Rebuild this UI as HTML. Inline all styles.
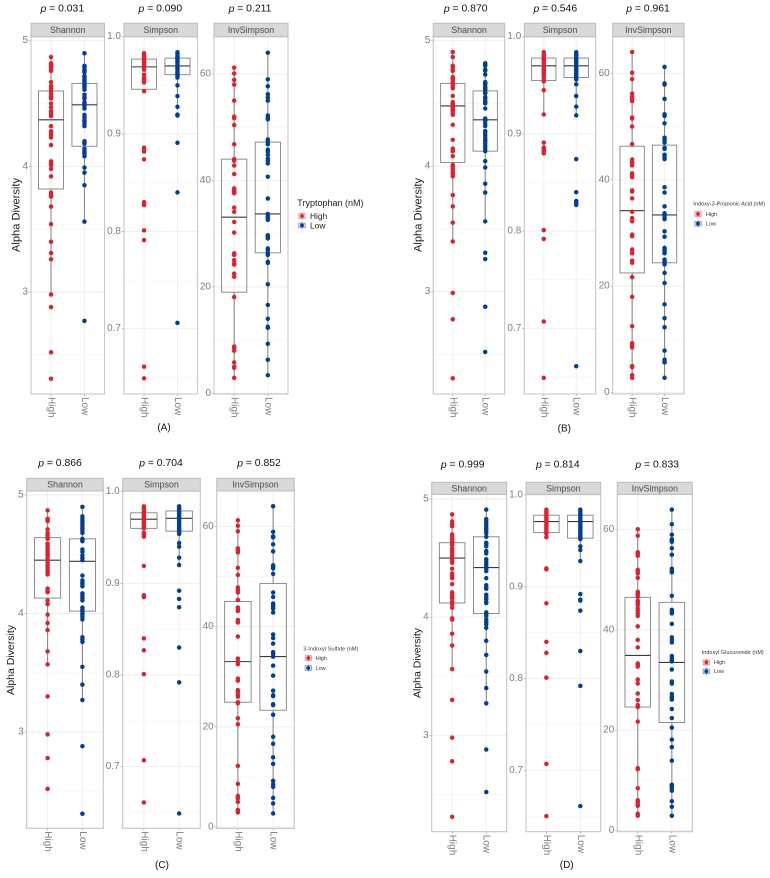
<!DOCTYPE html>
<html lang="en">
<head>
<meta charset="utf-8">
<title>Alpha diversity by metabolite level</title>
<style>
  html, body { margin: 0; padding: 0; background: #fff; }
  #figure { display: block; width: 770px; height: 878px; font-family: "Liberation Sans", sans-serif; filter: blur(0.3px); }
  .pval { font-size: 10.4px; fill: #111; text-anchor: middle; dominant-baseline: central; }
  .caption { font-size: 10px; fill: #111; text-anchor: middle; dominant-baseline: central; }
  .ytitle { fill: #1a1a1a; text-anchor: middle; }
</style>
</head>
<body>
<svg id="figure" xmlns="http://www.w3.org/2000/svg" width="770" height="878" viewBox="0 0 770 878">
  <rect x="0" y="0" width="770" height="878" fill="#ffffff"/>

  <g id="charts"></g>

  <g>
    <text class="pval" x="62.3" y="9"><tspan font-style="italic">p</tspan> = 0.031</text>
    <text class="pval" x="160.3" y="9"><tspan font-style="italic">p</tspan> = 0.090</text>
    <text class="pval" x="250" y="9"><tspan font-style="italic">p</tspan> = 0.211</text>
    <text class="pval" x="465.7" y="9"><tspan font-style="italic">p</tspan> = 0.870</text>
    <text class="pval" x="555.3" y="9"><tspan font-style="italic">p</tspan> = 0.546</text>
    <text class="pval" x="648" y="9"><tspan font-style="italic">p</tspan> = 0.961</text>
    <text class="pval" x="60" y="463.3"><tspan font-style="italic">p</tspan> = 0.866</text>
    <text class="pval" x="161" y="463.3"><tspan font-style="italic">p</tspan> = 0.704</text>
    <text class="pval" x="259" y="463.3"><tspan font-style="italic">p</tspan> = 0.852</text>
    <text class="pval" x="462.7" y="465"><tspan font-style="italic">p</tspan> = 0.999</text>
    <text class="pval" x="557.8" y="465"><tspan font-style="italic">p</tspan> = 0.814</text>
    <text class="pval" x="657.2" y="465"><tspan font-style="italic">p</tspan> = 0.833</text>
  </g>

  <g>
    <text class="caption" x="164" y="428">(A)</text>
    <text class="caption" x="564.3" y="429">(B)</text>
    <text class="caption" x="162" y="865.7">(C)</text>
    <text class="caption" x="566.7" y="865.7">(D)</text>
  </g>

  <g>
    <text class="ytitle" font-size="11.1" transform="translate(19.5,215) rotate(-90)">Alpha Diversity</text>
    <text class="ytitle" font-size="11.1" transform="translate(421.5,215) rotate(-90)">Alpha Diversity</text>
    <text class="ytitle" font-size="10.5" transform="translate(14,660) rotate(-90)">Alpha Diversity</text>
    <text class="ytitle" font-size="10.5" transform="translate(420.5,663) rotate(-90)">Alpha Diversity</text>
  </g>

  <g>
    <text x="297.3" y="206.2" font-size="9" fill="#222">Tryptophan (nM)</text>
    <text x="310" y="219.2" font-size="8.4" fill="#222">High</text>
    <text x="310" y="228.4" font-size="8.4" fill="#222">Low</text>
  </g>
  <g>
    <text x="693.3" y="205.6" font-size="5.6" fill="#333" textLength="71.7">Indoxy-3-Propionic Acid (nM)</text>
    <text x="706" y="216" font-size="5.4" fill="#333">High</text>
    <text x="706" y="225.6" font-size="5.4" fill="#333">Low</text>
  </g>
  <g>
    <text x="303.3" y="650.6" font-size="5.4" fill="#333" textLength="55">3-Indoxyl Sulfate (nM)</text>
    <text x="315.7" y="660" font-size="5.4" fill="#333">High</text>
    <text x="315.7" y="670" font-size="5.4" fill="#333">Low</text>
  </g>
  <g>
    <text x="701.7" y="654.2" font-size="5.4" fill="#333" textLength="62">Indoxyl Glucuronide (nM)</text>
    <text x="714" y="664.2" font-size="5.4" fill="#333">High</text>
    <text x="714" y="673.2" font-size="5.4" fill="#333">Low</text>
  </g>
  <g id="legend-keys"></g>
</svg>

<script>
// ---------- shared categories and tick labels ----------
const categories = ['High', 'Low'];
const metrics = ['Shannon', 'Simpson', 'InvSimpson'];
const shannonTicks = [5, 4, 3];
const shannonTickLabels = ['5', '4', '3'];
const shannonMinorTicks = [4.5, 3.5, 2.5];
const simpsonTicks = [1.0, 0.9, 0.8, 0.7];
const simpsonTickLabels = ['1.0', '0.9', '0.8', '0.7'];
const simpsonMinorTicks = [0.95, 0.85, 0.75, 0.65];
const invTicks = [60, 40, 20, 0];
const invTickLabels = ['60', '40', '20', '0'];
const invMinorTicks = [50, 30, 10];

// ---------- (A) Tryptophan ----------
const shannonHighA = [4.87,4.82,4.81,4.80,4.79,4.77,4.76,4.67,4.64,4.62,4.60,4.58,4.56,4.55,4.54,4.50,4.47,4.44,4.42,4.40,4.32,4.28,4.27,4.25,4.23,4.17,4.04,4.02,4.01,3.98,3.92,3.79,3.77,3.76,3.68,3.54,3.40,3.31,3.26,2.98,2.88,2.52,2.31];
const shannonLowA = [4.90,4.80,4.79,4.77,4.76,4.75,4.72,4.71,4.69,4.68,4.67,4.65,4.64,4.63,4.61,4.57,4.55,4.54,4.51,4.50,4.48,4.46,4.41,4.39,4.37,4.36,4.34,4.32,4.20,4.19,4.18,4.14,4.12,4.11,4.10,4.08,3.99,3.95,3.85,3.56,2.77];
const simpsonHighA = [.983,.981,.979,.978,.976,.974,.973,.971,.969,.967,.966,.961,.958,.956,.954,.953,.944,.886,.884,.882,.874,.830,.829,.827,.801,.791,.661,.649];
const simpsonLowA = [.984,.982,.980,.979,.977,.975,.974,.972,.970,.968,.967,.965,.963,.962,.960,.958,.950,.939,.928,.920,.919,.891,.840,.706];
const invHighA = [61.2,60.1,58.9,58.0,55.0,52.0,51.7,50.4,46.8,44.0,43.7,42.8,41.2,38.5,38.2,37.9,37.6,34.9,34.1,32.2,30.2,26.3,26.0,25.0,24.4,24.2,22.5,21.9,18.1,8.8,8.5,8.0,5.8,5.0,4.8,2.9];
const invLowA = [64.0,59.0,57.7,56.2,55.6,55.0,52.2,51.8,51.5,47.7,47.3,46.8,45.8,45.4,44.8,44.1,43.7,43.2,40.7,36.6,33.7,33.3,32.9,32.6,29.7,29.4,29.1,27.2,26.9,26.3,26.0,24.7,24.5,20.5,16.6,14.0,12.5,12.3,9.3,6.3,3.4];
// box arrays: lower whisker, q1, median, q3, upper whisker
const boxShannonHighA = [2.98,3.82,4.37,4.60,4.87];
const boxShannonLowA = [3.56,4.16,4.49,4.66,4.90];
const boxSimpsonHighA = [.944,.946,.969,.977,.983];
const boxSimpsonLowA = [.925,.961,.970,.978,.984];
const boxInvHighA = [2.9,19.0,33.1,44.0,61.2];
const boxInvLowA = [3.4,26.4,33.7,47.2,64.0];

// ---------- (B) Indoxy-3-Propionic Acid ----------
const shannonHighB = [4.91,4.87,4.80,4.79,4.77,4.76,4.71,4.70,4.69,4.67,4.66,4.65,4.63,4.62,4.56,4.51,4.50,4.49,4.47,4.46,4.45,4.44,4.42,4.41,4.33,4.21,4.14,4.13,4.12,4.08,4.01,4.00,3.98,3.96,3.94,3.92,3.77,3.68,3.55,3.40,2.99,2.78,2.31];
const shannonLowB = [4.82,4.81,4.80,4.77,4.76,4.73,4.67,4.66,4.65,4.63,4.62,4.61,4.59,4.58,4.55,4.54,4.52,4.51,4.50,4.46,4.38,4.37,4.36,4.34,4.32,4.28,4.27,4.25,4.23,4.21,4.20,4.18,4.16,4.14,4.12,4.04,3.99,3.86,3.79,3.56,3.31,3.26,2.88,2.52];
const simpsonHighB = [.984,.982,.980,.978,.976,.974,.972,.970,.968,.966,.964,.962,.960,.957,.954,.945,.920,.891,.886,.884,.882,.880,.801,.792,.707,.649];
const simpsonLowB = [.984,.982,.980,.978,.976,.974,.972,.970,.968,.966,.964,.962,.960,.958,.956,.951,.939,.928,.919,.874,.840,.831,.829,.827,.661];
const invHighB = [64.0,60.1,58.9,56.2,55.6,55.2,54.8,51.7,51.5,50.0,46.7,43.8,43.4,43.1,42.7,41.2,40.8,40.5,38.0,37.8,36.5,34.0,32.8,32.2,29.7,29.4,26.9,26.4,26.2,24.8,24.4,21.7,18.0,12.5,9.3,8.9,8.5,5.0,4.8,3.3,2.8];
const invLowB = [61.2,58.1,57.9,55.2,52.3,52.0,50.6,47.9,47.5,47.0,46.0,45.8,44.7,44.3,43.9,38.6,37.6,35.0,33.7,33.3,32.9,32.6,30.3,29.3,27.2,26.9,26.6,26.2,25.0,24.7,24.4,24.1,22.5,20.6,16.6,14.0,12.3,7.9,6.2,5.8,5.7,2.8];
const boxShannonHighB = [3.40,4.03,4.48,4.66,4.91];
const boxShannonLowB = [3.56,4.12,4.37,4.60,4.82];
const boxSimpsonHighB = [.920,.955,.970,.978,.984];
const boxSimpsonLowB = [.919,.958,.970,.978,.984];
const boxInvHighB = [2.8,22.5,34.2,46.3,64.0];
const boxInvLowB = [2.8,24.4,33.4,46.5,61.2];

// ---------- (C) 3-Indoxyl Sulfate ----------
const shannonHighC = [4.87,4.80,4.79,4.78,4.71,4.68,4.66,4.64,4.63,4.59,4.57,4.55,4.54,4.52,4.50,4.49,4.47,4.45,4.43,4.41,4.39,4.37,4.35,4.33,4.21,4.19,4.18,4.11,4.08,3.99,3.92,3.86,3.68,3.57,3.30,2.98,2.78,2.52];
const shannonLowC = [4.90,4.82,4.80,4.78,4.76,4.74,4.72,4.70,4.68,4.63,4.62,4.61,4.54,4.52,4.49,4.47,4.45,4.32,4.28,4.26,4.25,4.23,4.17,4.15,4.13,4.11,4.05,4.03,4.02,4.00,3.99,3.97,3.95,3.80,3.78,3.76,3.55,3.40,3.27,2.88,2.31];
const simpsonHighC = [.984,.982,.980,.978,.976,.974,.972,.970,.968,.966,.964,.962,.960,.955,.953,.951,.919,.887,.885,.840,.827,.801,.707,.661];
const simpsonLowC = [.984,.982,.980,.978,.976,.974,.972,.970,.968,.966,.964,.962,.960,.958,.956,.954,.944,.940,.928,.920,.892,.883,.874,.830,.792,.649];
const invHighC = [61.2,60.1,59.0,55.6,55.2,54.8,51.7,50.3,47.8,47.3,46.8,45.3,43.8,43.4,43.1,41.3,41.0,40.8,38.0,33.6,33.0,32.5,29.6,29.2,27.3,26.9,26.3,26.0,24.9,24.7,21.7,20.5,12.2,8.6,6.2,5.9,5.7,5.0,3.4,3.1,2.9];
const invLowC = [64.0,58.9,58.0,57.8,56.4,55.0,52.2,51.9,51.6,50.5,46.8,45.9,44.6,44.3,44.0,43.6,42.8,38.4,37.7,36.6,34.9,34.5,34.0,32.2,30.2,27.2,26.3,26.1,24.5,24.3,22.4,18.0,16.6,13.9,12.6,9.2,8.5,8.0,5.8,4.7,2.7];
const boxShannonHighC = [3.57,4.13,4.45,4.64,4.87];
const boxShannonLowC = [3.27,4.02,4.44,4.63,4.90];
const boxSimpsonHighC = [.951,.960,.970,.977,.984];
const boxSimpsonLowC = [.920,.957,.971,.979,.984];
const boxInvHighC = [2.9,24.9,33.0,45.0,61.2];
const boxInvLowC = [2.7,23.3,34.0,48.6,64.0];

// ---------- (D) Indoxyl Glucuronide ----------
const shannonHighD = [4.87,4.81,4.79,4.77,4.70,4.68,4.66,4.64,4.62,4.61,4.58,4.56,4.54,4.52,4.50,4.48,4.46,4.41,4.37,4.35,4.33,4.28,4.21,4.19,4.17,4.16,4.13,4.11,4.08,3.99,3.98,3.86,3.76,3.56,3.30,2.98,2.78,2.31];
const shannonLowD = [4.91,4.83,4.81,4.79,4.77,4.75,4.73,4.71,4.68,4.63,4.62,4.60,4.56,4.54,4.49,4.47,4.45,4.43,4.41,4.39,4.33,4.27,4.25,4.24,4.19,4.17,4.15,4.13,4.12,4.04,4.03,4.01,3.98,3.96,3.94,3.91,3.80,3.68,3.54,3.40,3.27,2.88,2.52];
const simpsonHighD = [.984,.982,.980,.978,.976,.974,.972,.970,.968,.966,.964,.962,.960,.958,.954,.920,.919,.882,.840,.828,.801,.707,.650];
const simpsonLowD = [.984,.982,.980,.978,.976,.974,.972,.970,.968,.966,.964,.962,.960,.958,.956,.954,.952,.944,.940,.928,.892,.886,.885,.874,.830,.792,.661];
const invHighD = [60.1,58.8,55.5,55.2,54.8,52.0,51.6,51.3,50.4,47.6,47.3,47.0,46.6,45.8,45.4,45.0,44.3,43.8,43.3,42.8,40.7,38.0,36.5,33.3,33.0,32.7,30.1,29.3,27.3,26.0,25.0,24.8,24.6,21.7,12.4,12.2,8.4,6.0,5.7,5.3,4.9,3.3,2.9];
const invLowD = [64.0,61.1,59.0,58.1,57.8,57.6,56.3,55.0,52.2,51.8,51.5,46.8,44.0,43.6,43.3,41.2,38.5,38.0,37.5,34.8,34.3,33.8,33.7,32.1,29.7,29.3,27.2,26.7,26.3,26.1,24.2,22.4,20.5,18.1,16.6,13.9,9.1,8.7,8.4,7.9,5.8,4.7,2.9];
const boxShannonHighD = [3.56,4.12,4.50,4.63,4.87];
const boxShannonLowD = [3.27,4.03,4.42,4.68,4.91];
const boxSimpsonHighD = [.954,.959,.971,.978,.984];
const boxSimpsonLowD = [.928,.953,.971,.978,.984];
const boxInvHighD = [2.9,24.6,34.9,46.5,60.1];
const boxInvLowD = [2.9,21.5,33.5,45.5,64.0];

// ---------- page geometry (layout only, no data) ----------
const figures = [
  { id: 'a', stripTop: 23.3, stripBottom: 36.7, bottom: 394,
    facets: [
      { x0: 31, x1: 104.5, domain: [5, 3], range: [40.7, 292], hi: shannonHighA, lo: shannonLowA, boxHi: boxShannonHighA, boxLo: boxShannonLowA },
      { x0: 124, x1: 197.5, domain: [1, 0.7], range: [36.7, 328.7], hi: simpsonHighA, lo: simpsonLowA, boxHi: boxSimpsonHighA, boxLo: boxSimpsonLowA },
      { x0: 214, x1: 288, domain: [60, 0], range: [74, 393.3], hi: invHighA, lo: invLowA, boxHi: boxInvHighA, boxLo: boxInvLowA }
    ] },
  { id: 'b', stripTop: 23.3, stripBottom: 36.7, bottom: 394,
    facets: [
      { x0: 433.3, x1: 504.7, domain: [5, 3], range: [40.7, 291.7], hi: shannonHighB, lo: shannonLowB, boxHi: boxShannonHighB, boxLo: boxShannonLowB },
      { x0: 524.3, x1: 595.7, domain: [1, 0.7], range: [36.7, 328.3], hi: simpsonHighB, lo: simpsonLowB, boxHi: boxSimpsonHighB, boxLo: boxSimpsonLowB },
      { x0: 612.7, x1: 684, domain: [60, 0], range: [73.3, 392.7], hi: invHighB, lo: invLowB, boxHi: boxInvHighB, boxLo: boxInvLowB }
    ] },
  { id: 'c', stripTop: 478.3, stripBottom: 491, bottom: 828.3,
    facets: [
      { x0: 26.7, x1: 103.3, domain: [5, 3], range: [495, 732], hi: shannonHighC, lo: shannonLowC, boxHi: boxShannonHighC, boxLo: boxShannonLowC },
      { x0: 122.7, x1: 200.3, domain: [1, 0.7], range: [491.7, 766.7], hi: simpsonHighC, lo: simpsonLowC, boxHi: boxSimpsonHighC, boxLo: boxSimpsonLowC },
      { x0: 216.7, x1: 294.3, domain: [60, 0], range: [526.3, 827], hi: invHighC, lo: invLowC, boxHi: boxInvHighC, boxLo: boxInvLowC }
    ] },
  { id: 'd', stripTop: 482.3, stripBottom: 494.3, bottom: 831.7,
    facets: [
      { x0: 431.7, x1: 506.7, domain: [5, 3], range: [499, 735.3], hi: shannonHighD, lo: shannonLowD, boxHi: boxShannonHighD, boxLo: boxShannonLowD },
      { x0: 526, x1: 600.7, domain: [1, 0.7], range: [495, 770.3], hi: simpsonHighD, lo: simpsonLowD, boxHi: boxSimpsonHighD, boxLo: boxSimpsonLowD },
      { x0: 617.3, x1: 692.3, domain: [60, 0], range: [529.7, 830.3], hi: invHighD, lo: invLowD, boxHi: boxInvHighD, boxLo: boxInvLowD }
    ] }
];
const tickSets = [
  { values: shannonTicks, labels: shannonTickLabels, minor: shannonMinorTicks },
  { values: simpsonTicks, labels: simpsonTickLabels, minor: simpsonMinorTicks },
  { values: invTicks, labels: invTickLabels, minor: invMinorTicks }
];
const seriesColors = ['#e31f2f', '#003f94'];
const legendKeySpots = [
  { x: 302, hiY: 216, loY: 225.4, id: 'a' },
  { x: 698, hiY: 214, loY: 223.7, id: 'b' },
  { x: 308.3, hiY: 658, loY: 668, id: 'c' },
  { x: 706.3, hiY: 662.3, loY: 671.3, id: 'd' }
];

const NS = 'http://www.w3.org/2000/svg';
function make(parent, tag, attrs) {
  const el = document.createElementNS(NS, tag);
  for (const k in attrs) el.setAttribute(k, attrs[k]);
  parent.appendChild(el);
  return el;
}
function yScale(facet) {
  const [d0, d1] = facet.domain, [r0, r1] = facet.range;
  return v => r0 + (v - d0) * (r1 - r0) / (d1 - d0);
}
function xScale(facet) {
  const unit = (facet.x1 - facet.x0) / 2.2;
  return i => facet.x0 + (0.6 + i) * unit;
}

function drawBox(g, cx, halfW, y, stats, color) {
  const [wLo, q1, med, q3, wHi] = stats;
  const upper = make(g, 'line', { x1: cx, x2: cx, y1: y(q3), y2: y(wHi), stroke: '#8a8a8a', 'stroke-width': 1.1 });
  
  
  const lower = make(g, 'line', { x1: cx, x2: cx, y1: y(q1), y2: y(wLo), stroke: '#8a8a8a', 'stroke-width': 1.1 });
  
  
  const box = make(g, 'rect', { x: cx - halfW, y: y(q3), width: 2 * halfW, height: y(q1) - y(q3), fill: 'none', stroke: '#828282', 'stroke-width': 0.9 });
  
  
  const median = make(g, 'line', { x1: cx - halfW, x2: cx + halfW, y1: y(med), y2: y(med), stroke: '#3a3a3a', 'stroke-width': 1.1 });
  
  
}

function drawFacet(root, fig, facet, idx) {
  const y = yScale(facet), x = xScale(facet), ticks = tickSets[idx];
  const g = make(root, 'g', {});
  
  

  ticks.minor.forEach(v => {
    if (y(v) > fig.bottom || y(v) < fig.stripBottom) return;
    const gl = make(g, 'line', { x1: facet.x0, x2: facet.x1, y1: y(v), y2: y(v), stroke: '#f4f4f4', 'stroke-width': 0.6 });
    
    
  });
  ticks.values.forEach((v, i) => {
    const gl = make(g, 'line', { x1: facet.x0, x2: facet.x1, y1: y(v), y2: y(v), stroke: '#eeeeee', 'stroke-width': 0.9 });
    
    
    const tick = make(g, 'line', { x1: facet.x0 - 2, x2: facet.x0, y1: y(v), y2: y(v), stroke: '#999', 'stroke-width': 0.7 });
    
    
    const lab = make(g, 'text', { x: facet.x0 - 3, y: y(v), 'font-size': 10, fill: '#7d7d7d', 'text-anchor': 'end', 'dominant-baseline': 'central' });
    lab.textContent = ticks.labels[i];
    
    
  });
  categories.forEach((c, i) => {
    const gl = make(g, 'line', { x1: x(i), x2: x(i), y1: fig.stripBottom, y2: fig.bottom, stroke: '#eeeeee', 'stroke-width': 0.9 });
    
    
    const tick = make(g, 'line', { x1: x(i), x2: x(i), y1: fig.bottom, y2: fig.bottom + 2, stroke: '#999', 'stroke-width': 0.7 });
    
    
    const lab = make(g, 'text', { transform: 'translate(' + x(i) + ',' + (fig.bottom + 3) + ') rotate(90)', 'font-size': 10, fill: '#7d7d7d', 'dominant-baseline': 'central' });
    lab.textContent = c;
    
    
  });

  const halfW = (facet.x1 - facet.x0) / 2.2 * 0.375;
  drawBox(g, x(0), halfW, y, facet.boxHi);
  drawBox(g, x(1), halfW, y, facet.boxLo);

  const border = make(g, 'rect', { x: facet.x0, y: fig.stripBottom, width: facet.x1 - facet.x0, height: fig.bottom - fig.stripBottom, fill: 'none', stroke: '#c6c6c6', 'stroke-width': 1.1 });
  
  
  const strip = make(g, 'rect', { x: facet.x0, y: fig.stripTop, width: facet.x1 - facet.x0, height: fig.stripBottom - fig.stripTop, fill: '#d9d9d9', stroke: '#bdbdbd', 'stroke-width': 1 });
  
  
  const stripText = make(g, 'text', { x: (facet.x0 + facet.x1) / 2, y: (fig.stripTop + fig.stripBottom) / 2, 'font-size': 8.9, fill: '#4a4a4a', 'text-anchor': 'middle', 'dominant-baseline': 'central' });
  stripText.textContent = metrics[idx];
  
  

  [facet.hi, facet.lo].forEach((values, s) => {
    values.forEach(v => {
      const dot = make(g, 'circle', { cx: x(s), cy: y(v), r: 2.25, fill: seriesColors[s] });
      
      
    });
  });
}

const chartsRoot = document.getElementById('charts');
figures.forEach(fig => {
  const g = make(chartsRoot, 'g', {});
  
  
  fig.facets.forEach((facet, i) => drawFacet(g, fig, facet, i));
});

const keysRoot = document.getElementById('legend-keys');
function drawKey(cx, cy, color) {
  const g = make(keysRoot, 'g', {});
  
  
  make(g, 'rect', { x: cx - 3.2, y: cy - 2.4, width: 6.4, height: 4.8, fill: color, 'fill-opacity': 0.18, stroke: color, 'stroke-opacity': 0.6, 'stroke-width': 0.6 });
  make(g, 'line', { x1: cx, x2: cx, y1: cy - 3.6, y2: cy + 3.6, stroke: color, 'stroke-opacity': 0.6, 'stroke-width': 0.6 });
  make(g, 'circle', { cx: cx, cy: cy, r: 1.9, fill: color });
}
legendKeySpots.forEach(k => {
  drawKey(k.x, k.hiY, seriesColors[0]);
  drawKey(k.x, k.loY, seriesColors[1]);
});
</script>
</body>
</html>
